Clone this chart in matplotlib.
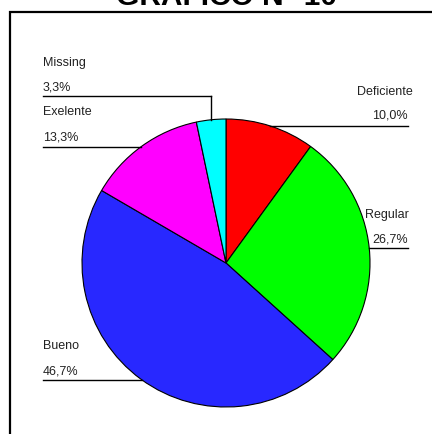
import numpy as np
import matplotlib
matplotlib.use("Agg")
import matplotlib.pyplot as plt
from matplotlib.patches import Rectangle

plt.rcParams['font.family'] = ['Liberation Sans', 'DejaVu Sans']

# Category shares (percent), drawn clockwise from 12 o'clock
categories = ["Deficiente", "Regular", "Bueno", "Exelente", "Missing"]
values = [10.0, 26.7, 46.7, 13.3, 3.3]
labels = ["10,0%", "26,7%", "46,7%", "13,3%", "3,3%"]
colors = ["#ff0000", "#00ff00", "#2828ff", "#ff00ff", "#00ffff"]

W, H = 432, 434
fig = plt.figure(figsize=(W / 100, H / 100), dpi=100)
ax = fig.add_axes([0, 0, 1, 1])

def Y(y):
    # image-style (top-down) pixel row to data y
    return H - y

cx, cy, r = 226, Y(263), 144
ax.pie(values, colors=colors, startangle=90, counterclock=False,
       center=(cx, cy), radius=r,
       wedgeprops=dict(edgecolor="black", linewidth=0.8))
ax.set_xlim(0, W)
ax.set_ylim(0, H)
ax.set_aspect('auto')
ax.axis('off')

def edge_x(y_img, side):
    dy = Y(y_img) - cy
    dx = np.sqrt(max(r * r - dy * dy, 0))
    return cx + side * dx

fs = 9
txt = dict(fontsize=fs, color="#222222", va="center")
lw = 1.0

# Missing (left, with elbow down to the pie)
ax.text(43, Y(63), categories[4], ha="left", **txt)
ax.text(43, Y(87), labels[4], ha="left", **txt)
ax.plot([43, 211, 211], [Y(96), Y(96), Y(96) - 0], color="black", lw=lw)
top_y = cy + np.sqrt(r * r - (211 - cx) ** 2)
ax.plot([211, 211], [Y(96), top_y], color="black", lw=lw)

# Exelente (left)
ax.text(43, Y(112), categories[3], ha="left", **txt)
ax.text(43, Y(138), labels[3], ha="left", **txt)
ax.plot([43, edge_x(147, -1)], [Y(147), Y(147)], color="black", lw=lw)

# Bueno (left)
ax.text(43, Y(346), categories[2], ha="left", **txt)
ax.text(43, Y(371), labels[2], ha="left", **txt)
ax.plot([43, edge_x(380, -1)], [Y(380), Y(380)], color="black", lw=lw)

# Deficiente (right)
ax.text(413, Y(92), categories[0], ha="right", **txt)
ax.text(408, Y(116), labels[0], ha="right", **txt)
ax.plot([edge_x(126, 1), 408], [Y(126), Y(126)], color="black", lw=lw)

# Regular (right)
ax.text(365, Y(215), categories[1], ha="left", **txt)
ax.text(408, Y(239), labels[1], ha="right", **txt)
ax.plot([edge_x(248, 1), 408], [Y(248), Y(248)], color="black", lw=lw)

# Frame around the plot area
fig.patches.append(Rectangle((10 / W, -0.1), 1.2, (H - 12) / H + 0.1,
                             transform=fig.transFigure, fill=False,
                             edgecolor="black", linewidth=1.6))

# Title
fig.text(226 / W, Y(5) / H, "GRAFICO N° 10", ha="center", va="baseline",
         fontsize=21.5, fontweight="bold", color="black")

fig.savefig("out.png", dpi=100)
